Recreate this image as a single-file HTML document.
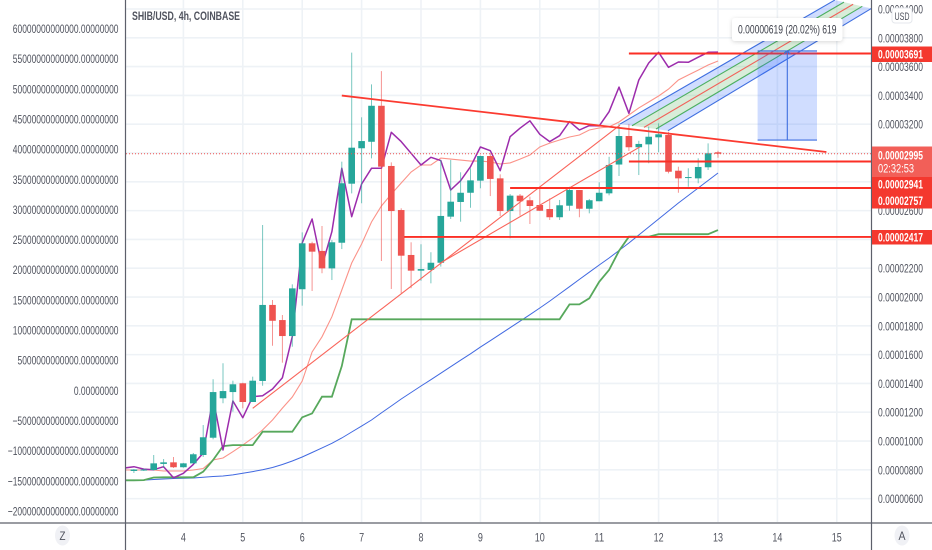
<!DOCTYPE html>
<html lang="en">
<head>
<meta charset="utf-8">
<title>SHIB/USD 4h chart</title>
<style>
html,body{margin:0;padding:0;background:#fff;width:932px;height:550px;overflow:hidden}
svg{display:block;filter:blur(.3px)}
text{font-family:"Liberation Sans","DejaVu Sans",sans-serif;font-size:12px;fill:#50535e}
</style>
</head>
<body>
<svg id="chart" xmlns="http://www.w3.org/2000/svg" width="932" height="550" viewBox="0 0 932 550">
  <defs>
    <clipPath id="plot-clip"><rect x="126" y="0" width="745.5" height="522.5"/></clipPath>
    <filter id="box-shadow" x="-10%" y="-30%" width="120%" height="170%"><feDropShadow dx="0" dy="1" stdDeviation="2" flood-color="#000" flood-opacity=".16"/></filter>
  </defs>
  <rect x="0" y="0" width="932" height="550" fill="#fff"/>
  <g id="grid"></g>
  <g clip-path="url(#plot-clip)">
    <g id="ma-lines"></g>
    <g id="candles"></g>
    <g id="drawings"></g>
  </g>
  <g id="left-axis"></g>
  <g id="right-axis"></g>
  <g id="time-axis"></g>

  <line x1="125.5" y1="0" x2="125.5" y2="550" stroke="#5d606b" stroke-width="1.2"/>
  <line x1="871.5" y1="0" x2="871.5" y2="550" stroke="#5d606b" stroke-width="1.2"/>
  <line x1="0" y1="523" x2="932" y2="523" stroke="#5d606b" stroke-width="1.2"/>

  <text x="132" y="20" textLength="108" lengthAdjust="spacingAndGlyphs" style="font-weight:bold;font-size:12px">SHIB/USD, 4h, COINBASE</text>

  <g>
    <rect x="732" y="18" width="110.5" height="23" rx="3" fill="#fff" filter="url(#box-shadow)"/>
    <text x="738" y="33.5" textLength="98.5" lengthAdjust="spacingAndGlyphs" style="fill:#3f424c">0.00000619 (20.02%) 619</text>
  </g>

  <g>
    <rect x="872" y="46.5" width="60" height="15.5" fill="#f4382e"/>
    <text x="878" y="58.5" textLength="45" lengthAdjust="spacingAndGlyphs" style="fill:#fff;font-weight:bold">0.00003691</text>
    <rect x="872" y="146.5" width="60" height="30.5" fill="#f25f58"/>
    <text x="878" y="159.5" textLength="45" lengthAdjust="spacingAndGlyphs" style="fill:#fff;font-weight:bold">0.00002995</text>
    <text x="878" y="172.5" textLength="36" lengthAdjust="spacingAndGlyphs" style="fill:#fff">02:32:53</text>
    <rect x="872" y="177" width="60" height="31.5" fill="#f4382e"/>
    <text x="878" y="188.5" textLength="45" lengthAdjust="spacingAndGlyphs" style="fill:#fff;font-weight:bold">0.00002941</text>
    <text x="878" y="205" textLength="45" lengthAdjust="spacingAndGlyphs" style="fill:#fff;font-weight:bold">0.00002757</text>
    <rect x="872" y="230" width="60" height="14.5" fill="#f4382e"/>
    <text x="878" y="241.5" textLength="45" lengthAdjust="spacingAndGlyphs" style="fill:#fff;font-weight:bold">0.00002417</text>
  </g>

  <g>
    <rect x="892" y="8" width="20" height="15" rx="3" fill="#fff" stroke="#e4e7ec"/>
    <text x="894.5" y="20" textLength="15" lengthAdjust="spacingAndGlyphs" style="font-size:11px">USD</text>
  </g>
  <g>
    <ellipse cx="62.5" cy="535.5" rx="7.5" ry="10" fill="#f0f1f5"/>
    <text x="62.5" y="540" text-anchor="middle" textLength="6" lengthAdjust="spacingAndGlyphs">Z</text>
  </g>
  <g>
    <ellipse cx="902" cy="535.5" rx="7.5" ry="10" fill="#f0f1f5"/>
    <text x="902" y="540" text-anchor="middle" textLength="7" lengthAdjust="spacingAndGlyphs">A</text>
  </g>
</svg>
<script>
// Candle values, unit 0.00000001 USD, one per 4h bar
const opens = [792,795,799,841,852,818,845,903,1023,1297,1340,1401,1271,1417,1945,1840,1729,2054,2373,2320,2199,2377,2787,3033,3078,3328,2910,2604,2292,2183,2188,2238,2558,2660,2724,2808,2979,2824,2597,2704,2672,2639,2611,2554,2634,2743,2613,2665,2720,2920,3118,3040,3060,3109,3125,2877,2826,2824,2901,3005];
const highs = [805,809,903,875,889,848,917,1111,1429,1540,1419,1405,1447,2500,1979,1875,2088,2449,2384,2493,2396,2940,3697,3248,3477,3569,2935,2616,2380,2366,2311,2952,2952,2866,2894,2982,2998,2852,2715,2715,2697,2766,2685,2674,2766,2743,2681,2797,2974,3206,3201,3085,3183,3206,3148,2905,2894,2963,3067,3016];
const lows = [778,792,795,813,813,815,845,889,1012,1262,1204,1227,1271,1384,1662,1544,1655,1940,2042,2165,2118,2333,2720,2651,2963,2250,2056,2026,2061,2113,2095,2211,2542,2523,2620,2755,2701,2563,2408,2565,2507,2597,2535,2535,2599,2554,2581,2665,2706,2840,3014,2847,2929,3005,2859,2724,2766,2790,2882,2967];
const closes = [802,802,845,852,818,845,908,1026,1340,1347,1394,1271,1419,1945,1835,1729,2060,2373,2315,2199,2380,2790,3037,3083,3328,2905,2597,2287,2183,2194,2238,2563,2662,2724,2810,2979,2820,2597,2704,2665,2632,2599,2554,2637,2743,2613,2672,2724,2917,3118,3040,3063,3113,3130,2870,2824,2833,2903,2998,2995];

// Indicator series, starting one bar before the first candle
const purpleSeries = [812,822,805,801,822,745,776,838,917,1299,938,1278,1162,1308,1315,1361,1440,1725,2375,2542,2215,2454,2894,2558,2785,2894,2894,3144,3079,2998,2917,2970,2947,2743,2808,2905,3042,3016,2877,3113,3172,3224,3130,3079,3120,3218,3160,3190,3188,3287,3458,3276,3507,3625,3699,3595,3632,3630,3665,3699,3701];
const pinkSeries = [799,799,799,799,792,792,792,799,809,868,882,926,972,1021,1077,1146,1229,1306,1417,1618,1724,1863,2049,2236,2368,2521,2632,2715,2792,2868,2917,2917,2965,2958,2951,2944,2944,2938,2924,2931,2958,2986,3042,3069,3090,3111,3125,3160,3174,3181,3215,3264,3313,3354,3396,3444,3507,3542,3576,3611,3639];
const blueSeries = [726,727,729,733,736,740,741,743,748,754,757,765,776,788,801,816,837,861,889,920,952,984,1021,1063,1104,1146,1195,1243,1292,1337,1382,1426,1471,1516,1561,1606,1652,1697,1742,1787,1832,1877,1924,1972,2022,2072,2122,2172,2222,2271,2323,2375,2431,2486,2542,2597,2653,2705,2757,2809,2861];
const greenSeries = [727,727,729,747,748,748,748,748,787,868,965,972,972,972,1065,1065,1065,1065,1165,1192,1308,1308,1521,1845,1845,1845,1845,1845,1845,1845,1845,1845,1845,1845,1845,1845,1845,1845,1845,1845,1845,1845,1845,1845,1845,1949,1949,1991,2106,2188,2320,2419,2419,2419,2436,2436,2436,2436,2436,2436,2465];

// Axis labels
const rightTicks = [4000,3800,3600,3400,3200,3000,2800,2600,2400,2200,2000,1800,1600,1400,1200,1000,800,600];
const rightTickLabels = ["0.00004000","0.00003800","0.00003600","0.00003400","0.00003200","0.00003000","0.00002800","0.00002600","0.00002400","0.00002200","0.00002000","0.00001800","0.00001600","0.00001400","0.00001200","0.00001000","0.00000800","0.00000600"];
const leftTicks = [60,55,50,45,40,35,30,25,20,15,10,5,0,-5,-10,-15,-20];
const leftTickLabels = ["60000000000000.00000000","55000000000000.00000000","50000000000000.00000000","45000000000000.00000000","40000000000000.00000000","35000000000000.00000000","30000000000000.00000000","25000000000000.00000000","20000000000000.00000000","15000000000000.00000000","10000000000000.00000000","5000000000000.00000000","0.00000000","\u22125000000000000.00000000","\u221210000000000000.00000000","\u221215000000000000.00000000","\u221220000000000000.00000000"];
const dateTicks = [5,11,17,23,29,35,41,47,53,59,65,71];
const dateLabels = ["4","5","6","7","8","9","10","11","12","13","14","15"];

// Drawing tools, as [bar, price] anchors
const lastPrice = 2995;
const levelPrices = [3691,2941,2757,2417];
const levelStartBars = [50,50,38,27.3];
const levelEndBar = 74.6;
const trendBars = [21,69.95];
const trendPrices = [3399,3007];
const diagOneBars = [12,49.1];
const diagOnePrices = [1227,3194];
const diagTwoBars = [30.9,51.1];
const diagTwoPrices = [2234,3042];
const forkStartBars = [49.1,53.95];
const forkStartPrices = [3201,3155];
const forkEndBars = [70.8,74.5];
const forkEndPrices = [4062,4004];
const measureBars = [63,69];
const measurePrices = [3090,3709];

// Axis functions
function xBar(i){ return 133.9 + 9.9 * i; }
function yPrice(p){ return (4062.5 - p) / 6.944; }
function yLeft(v){ return 390.3 - v * 6.03; }

const NS = 'http://www.w3.org/2000/svg';
function make(tag, attrs, parent, txt){
  const el = document.createElementNS(NS, tag);
  for (const k in attrs) el.setAttribute(k, attrs[k]);
  if (txt !== undefined) el.textContent = txt;
  parent.appendChild(el);
  return el;
}
const grid = document.getElementById('grid');
const maLines = document.getElementById('ma-lines');
const candleLayer = document.getElementById('candles');
const drawings = document.getElementById('drawings');
const leftAxis = document.getElementById('left-axis');
const rightAxis = document.getElementById('right-axis');
const timeAxis = document.getElementById('time-axis');

// Horizontal grid and right labels
rightTicks.forEach(function(p, k){
  const y = yPrice(p);
  const line = make('line', {x1:126, x2:871, y1:y, y2:y, stroke:'#eef2f6', 'stroke-width':1.6}, grid);
  
  
  const label = make('text', {x:878, y:y + 4.5, textLength:45, lengthAdjust:'spacingAndGlyphs'}, rightAxis, rightTickLabels[k]);
  
  
});

// Left labels
leftTicks.forEach(function(v, k){
  const s = leftTickLabels[k];
  const digits = s.replace(/[^0-9]/g, '').length;
  const w = digits * 4.7 + 2.3 + (s.charAt(0) === '\u2212' ? 5 : 0);
  const label = make('text', {x:118.5, y:yLeft(v) + 4.5, 'text-anchor':'end', textLength:w, lengthAdjust:'spacingAndGlyphs'}, leftAxis, s);
  
  
});

// Vertical grid and dates
dateTicks.forEach(function(b, k){
  const x = xBar(b);
  const line = make('line', {x1:x, x2:x, y1:0, y2:522, stroke:'#eef2f6', 'stroke-width':1.6}, grid);
  
  
  const label = make('text', {x:x, y:541.5, 'text-anchor':'middle', textLength:dateLabels[k].length * 5, lengthAdjust:'spacingAndGlyphs'}, timeAxis, dateLabels[k]);
  
  
});

// Indicator lines
function seriesPoints(values){
  return values.map(function(v, k){ return xBar(k - 1).toFixed(1) + ',' + yPrice(v).toFixed(1); }).join(' ');
}
const blueLine = make('polyline', {points:seriesPoints(blueSeries), fill:'none', stroke:'#4169e1', 'stroke-width':1}, maLines);


const pinkLine = make('polyline', {points:seriesPoints(pinkSeries), fill:'none', stroke:'#fb9389', 'stroke-width':1.1}, maLines);


const greenLine = make('polyline', {points:seriesPoints(greenSeries), fill:'none', stroke:'#57a85c', 'stroke-width':1.8}, maLines);


const purpleLine = make('polyline', {points:seriesPoints(purpleSeries), fill:'none', stroke:'#9c2cac', 'stroke-width':1.5, 'stroke-linejoin':'round'}, maLines);



// Candles
opens.forEach(function(o, i){
  const c = closes[i];
  const col = c >= o ? '#26a69a' : '#ef5350';
  const x = xBar(i);
  const wick = make('line', {x1:x, x2:x, y1:yPrice(highs[i]), y2:yPrice(lows[i]), stroke:col, 'stroke-width':1, opacity:.62}, candleLayer);
  
  
  const top = yPrice(Math.max(o, c));
  const h = Math.max(1, yPrice(Math.min(o, c)) - top);
  const body = make('rect', {x:x - 3.3, y:top, width:6.6, height:h, fill:col}, candleLayer);
  
  
});

// Pitchfork
function forkLine(t){
  return {
    x1:xBar(forkStartBars[0] + (forkStartBars[1] - forkStartBars[0]) * t),
    y1:yPrice(forkStartPrices[0] + (forkStartPrices[1] - forkStartPrices[0]) * t),
    x2:xBar(forkEndBars[0] + (forkEndBars[1] - forkEndBars[0]) * t),
    y2:yPrice(forkEndPrices[0] + (forkEndPrices[1] - forkEndPrices[0]) * t)
  };
}
function forkBand(a, b, fill, name){
  const la = forkLine(a);
  const lb = forkLine(b);
  const band = make('polygon', {points:[la.x1, la.y1, la.x2, la.y2, lb.x2, lb.y2, lb.x1, lb.y1].join(' '), fill:fill}, drawings);
  
  
}
forkBand(0, .25, 'rgba(41,98,255,.22)', 'pitchfork-upper-blue-band');
forkBand(.25, .75, 'rgba(76,175,80,.22)', 'pitchfork-green-band');
forkBand(.75, 1, 'rgba(41,98,255,.22)', 'pitchfork-lower-blue-band');
[[0, '#3f6fe0'], [.25, '#4caf60'], [.5, '#f2615a'], [.75, '#4caf60'], [1, '#3f6fe0']].forEach(function(d){
  const l = forkLine(d[0]);
  const prong = make('line', {x1:l.x1, y1:l.y1, x2:l.x2, y2:l.y2, stroke:d[1], 'stroke-width':1.1}, drawings);
  
  
});

// Thin diagonal trend lines
const diagOne = make('line', {x1:xBar(diagOneBars[0]), y1:yPrice(diagOnePrices[0]), x2:xBar(diagOneBars[1]), y2:yPrice(diagOnePrices[1]), stroke:'#f9645a', 'stroke-width':1.1}, drawings);


const diagTwo = make('line', {x1:xBar(diagTwoBars[0]), y1:yPrice(diagTwoPrices[0]), x2:xBar(diagTwoBars[1]), y2:yPrice(diagTwoPrices[1]), stroke:'#f9645a', 'stroke-width':1.1}, drawings);



// Thick trend line
const trend = make('line', {x1:xBar(trendBars[0]), y1:yPrice(trendPrices[0]), x2:xBar(trendBars[1]), y2:yPrice(trendPrices[1]), stroke:'#fb3a30', 'stroke-width':1.8}, drawings);



// Last price dotted line
const lastLine = make('line', {x1:126, x2:871, y1:yPrice(lastPrice), y2:yPrice(lastPrice), stroke:'#ef5350', 'stroke-width':1, 'stroke-dasharray':'1 2'}, drawings);



// Horizontal levels
levelPrices.forEach(function(p, k){
  const y = yPrice(p);
  const level = make('line', {x1:xBar(levelStartBars[k]), x2:xBar(levelEndBar), y1:y, y2:y, stroke:'#fb2f25', 'stroke-width':1.9}, drawings);
  
  
});

// Measure box
const mx1 = xBar(measureBars[0]);
const mx2 = xBar(measureBars[1]);
const my1 = yPrice(measurePrices[1]);
const my2 = yPrice(measurePrices[0]);
const mid = (mx1 + mx2) / 2;
const box = make('rect', {x:mx1, y:my1, width:mx2 - mx1, height:my2 - my1, fill:'rgba(41,98,255,.22)'}, drawings);


const boxTop = make('line', {x1:mx1, x2:mx2, y1:my1, y2:my1, stroke:'#3f6fe0', 'stroke-width':1.1}, drawings);


const boxBottom = make('line', {x1:mx1, x2:mx2, y1:my2, y2:my2, stroke:'#3f6fe0', 'stroke-width':1.1}, drawings);


const arrow = make('path', {d:'M' + mid + ' ' + my2 + 'V' + my1 + 'M' + (mid - 3) + ' ' + (my1 + 3) + 'L' + mid + ' ' + my1 + 'L' + (mid + 3) + ' ' + (my1 + 3), fill:'none', stroke:'#3f6fe0', 'stroke-width':1.1}, drawings);


</script>
</body>
</html>
